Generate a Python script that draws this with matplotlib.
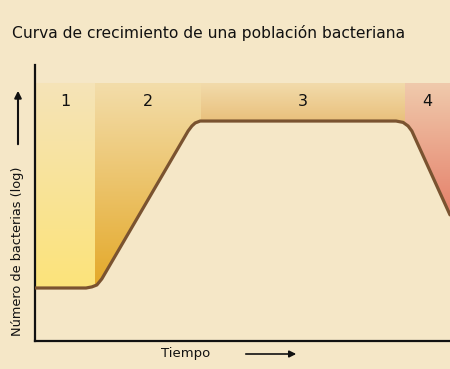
import numpy as np
import matplotlib
matplotlib.use("Agg")
import matplotlib.pyplot as plt
from matplotlib.colors import LinearSegmentedColormap

# ====== data (time in arbitrary units, log of bacteria count) ======
time_pts = [0.0, 1.23, 1.37, 1.49, 1.61, 3.69, 3.78, 3.86, 3.98, 8.70, 8.87, 8.99, 9.08, 10.0]
log_pts = [1.92, 1.92, 1.96, 2.03, 2.25, 7.61, 7.79, 7.90, 7.97, 7.97, 7.92, 7.79, 7.61, 4.57]

phase_labels = ["1", "2", "3", "4"]
phase_edges = [0.0, 1.446, 4.0, 8.916, 10.0]
phase_top = 9.35
phase_colors = [("#F5E4B8", "#FCE37A"),
                ("#F3DDAA", "#E4A92A"),
                ("#F2DBAB", "#E8BE78"),
                ("#F0CAAC", "#E5806A")]

title = "Curva de crecimiento de una población bacteriana"
ylabel = "Número de bacterias (log)"
xlabel = "Tiempo"

bg = "#F5E7C7"
W, H = 450, 369


def fx(px):
    return px / W


def fy(py):
    return 1 - py / H


fig = plt.figure(figsize=(4.5, 3.69), dpi=100, facecolor=bg)
ax = fig.add_axes([fx(35), fy(341), fx(450) - fx(35), fy(65) - fy(341)])
ax.set_facecolor(bg)
ax.set_xlim(0, 10)
ax.set_ylim(0, 10)

# ====== phase bands with vertical gradients, cut off by the curve ======
for i in range(4):
    t0, t1 = phase_edges[i], phase_edges[i + 1]
    tt = [t0] + [t for t in time_pts if t0 < t < t1] + [t1]
    yy = np.interp(tt, time_pts, log_pts)
    poly = ax.fill_between(tt, yy, phase_top, color="none", lw=0)
    cmap = LinearSegmentedColormap.from_list("b%d" % i, [phase_colors[i][1], phase_colors[i][0]])
    bottom = min(yy)
    grad = np.linspace(0, 1, 256).reshape(-1, 1)
    im = ax.imshow(grad, cmap=cmap, origin="lower", aspect="auto",
                   extent=[t0, t1, bottom, phase_top], zorder=1)
    im.set_clip_path(poly.get_paths()[0], ax.transData)
    ax.text((t0 + t1) / 2, (341 - 102) / 27.6, phase_labels[i], ha="center", va="center",
            fontsize=11.5, color="#111111", zorder=3)

ax.plot(time_pts, log_pts, color="#7A5330", lw=2.3, solid_joinstyle="round",
        solid_capstyle="round", zorder=4)
ax.set_xlim(0, 10)
ax.set_ylim(0, 10)

# axes: only left and bottom lines
for s in ["top", "right"]:
    ax.spines[s].set_visible(False)
for s in ["left", "bottom"]:
    ax.spines[s].set_linewidth(1.6)
    ax.spines[s].set_color("#111111")
ax.set_xticks([])
ax.set_yticks([])

# ====== texts and arrows ======
fig.text(fx(12), fy(33), title, ha="left", va="center", fontsize=11.2, color="#111111")
fig.text(fx(18), fy(251), ylabel, rotation=90, ha="center", va="center", fontsize=9.3, color="#111111")
fig.text(fx(186), fy(354), xlabel, ha="center", va="center", fontsize=9.5, color="#111111")

fig.add_artist(matplotlib.patches.FancyArrowPatch(
    (fx(18), fy(147)), (fx(18), fy(88)), transform=fig.transFigure,
    arrowstyle="-|>,head_length=4,head_width=2", color="#111111", lw=1.5))
fig.add_artist(matplotlib.patches.FancyArrowPatch(
    (fx(243), fy(354)), (fx(299), fy(354)), transform=fig.transFigure,
    arrowstyle="-|>,head_length=4,head_width=2", color="#111111", lw=1.2))

fig.savefig("out.png", dpi=100, facecolor=bg)
